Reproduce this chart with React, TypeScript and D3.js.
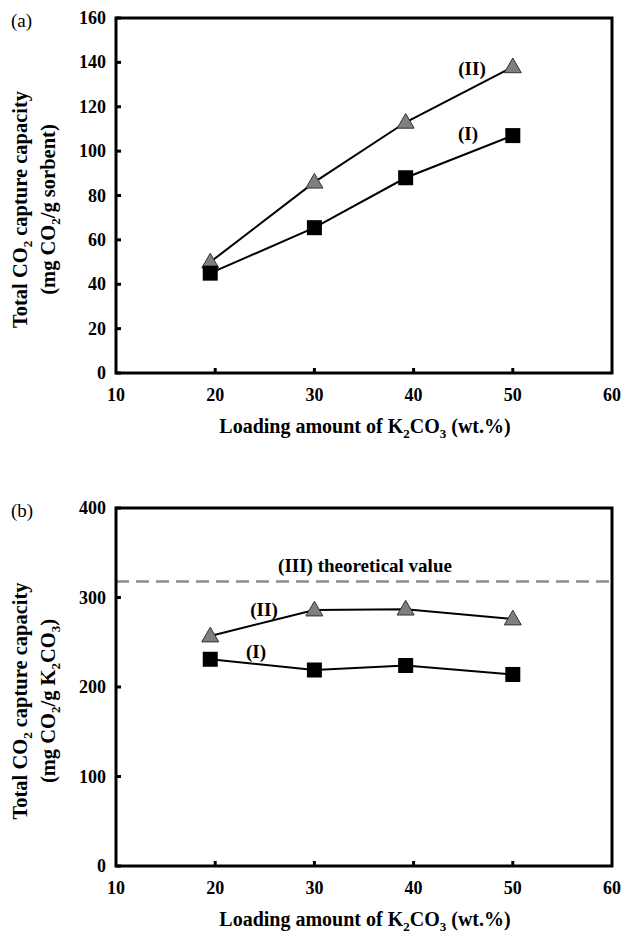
import React from 'react';
import * as d3 from 'd3';

const loading = [19.5, 30, 39.2, 50];
const xTicks = [10, 20, 30, 40, 50, 60];

const sorbentI = [45, 65.5, 88, 107];
const sorbentII = [50, 86, 113, 138];
const sorbentTicks = [0, 20, 40, 60, 80, 100, 120, 140, 160];

const carbonateI = [231, 219, 224, 214];
const carbonateII = [257, 286, 287, 276];
const carbonateTheory = 318;
const carbonateTicks = [0, 100, 200, 300, 400];

const font = '"Liberation Serif", "Times New Roman", serif';
const width = 624;
const height = 933;

type Label = { text: string; x: number; y: number };

type PanelProps = {
  top: number;
  bottom: number;
  tag: string;
  yMax: number;
  yTicks: number[];
  seriesI: number[];
  seriesII: number[];
  labelI: Label;
  labelII: Label;
  theory?: number;
  yUnit: React.ReactNode;
};

const left = 116;
const right = 612;

const Sub = ({ children }: { children: React.ReactNode }) => (
  <tspan fontSize={13} dy={5}>{children}</tspan>
);

const Panel = ({ top, bottom, tag, yMax, yTicks, seriesI, seriesII, labelI, labelII, theory, yUnit }: PanelProps) => {
  const x = d3.scaleLinear().domain([10, 60]).range([left, right]);
  const y = d3.scaleLinear().domain([0, yMax]).range([bottom, top]);
  const line = d3.line<number>().x((_, i) => x(loading[i])).y(d => y(d));
  const tri = d3.symbol().type(d3.symbolTriangle).size(125)();
  const midY = (top + bottom) / 2 + 14;
  return (
    <g fontFamily={font}>
      <text x={11} y={top + 9} fontSize={19}>{tag}</text>
      {theory !== undefined && (
        <g>
          <line x1={left} x2={right} y1={y(theory)} y2={y(theory)} stroke="#8c8c8c" strokeWidth={2.5} strokeDasharray="13 7" />
          <text x={365} y={y(theory) - 9} fontSize={19} fontWeight="bold" textAnchor="middle">(III) theoretical value</text>
        </g>
      )}
      <path d={line(seriesII) ?? ''} fill="none" stroke="#000" strokeWidth={2} />
      <path d={line(seriesI) ?? ''} fill="none" stroke="#000" strokeWidth={2} />
      {seriesII.map((d, i) => (
        <path key={'t' + i} d={tri ?? ''} transform={`translate(${x(loading[i])},${y(d) + 1})`} fill="#7f7f7f" stroke="#333" strokeWidth={1} />
      ))}
      {seriesI.map((d, i) => (
        <rect key={'s' + i} x={x(loading[i]) - 7.5} y={y(d) - 7.5} width={15} height={15} fill="#000" />
      ))}
      <text x={labelII.x} y={labelII.y} fontSize={19} fontWeight="bold" textAnchor="middle">{labelII.text}</text>
      <text x={labelI.x} y={labelI.y} fontSize={19} fontWeight="bold" textAnchor="middle">{labelI.text}</text>
      <rect x={left} y={top} width={right - left} height={bottom - top} fill="none" stroke="#000" strokeWidth={3} />
      {yTicks.map(t => (
        <g key={'y' + t}>
          <line x1={left} x2={left + 5} y1={y(t)} y2={y(t)} stroke="#000" strokeWidth={3} />
          <text x={106} y={y(t) + 6} fontSize={18} fontWeight="bold" textAnchor="end">{t}</text>
        </g>
      ))}
      {xTicks.map(t => (
        <g key={'x' + t}>
          {t > 10 && t < 60 && <line x1={x(t)} x2={x(t)} y1={bottom} y2={bottom - 5} stroke="#000" strokeWidth={3} />}
          <text x={x(t)} y={bottom + 28} fontSize={18} fontWeight="bold" textAnchor="middle">{t}</text>
        </g>
      ))}
      <text x={365} y={bottom + 60} fontSize={20} fontWeight="bold" textAnchor="middle">
        Loading amount of K<Sub>2</Sub><tspan dy={-5}>CO</tspan><Sub>3</Sub><tspan dy={-5}> (wt.%)</tspan>
      </text>
      <g transform={`translate(27,${midY}) rotate(-90)`}>
        <text x={0} y={0} fontSize={20.5} fontWeight="bold" textAnchor="middle">
          Total CO<Sub>2</Sub><tspan dy={-5}> capture capacity</tspan>
        </text>
      </g>
      <g transform={`translate(55,${midY}) rotate(-90)`}>
        <text x={0} y={0} fontSize={20.5} fontWeight="bold" textAnchor="middle">{yUnit}</text>
      </g>
    </g>
  );
};

export default function App() {
  return (
    <svg width={width} height={height} style={{ position: 'absolute', left: 0, top: 0 }}>
      <rect width={width} height={height} fill="#fff" />
      <Panel
        top={18}
        bottom={373}
        tag="(a)"
        yMax={160}
        yTicks={sorbentTicks}
        seriesI={sorbentI}
        seriesII={sorbentII}
        labelI={{ text: '(I)', x: 468, y: 140 }}
        labelII={{ text: '(II)', x: 472, y: 75 }}
        yUnit={<>(mg CO<Sub>2</Sub><tspan dy={-5}>/g sorbent)</tspan></>}
      />
      <Panel
        top={508}
        bottom={866}
        tag="(b)"
        yMax={400}
        yTicks={carbonateTicks}
        seriesI={carbonateI}
        seriesII={carbonateII}
        theory={carbonateTheory}
        labelI={{ text: '(I)', x: 256, y: 658 }}
        labelII={{ text: '(II)', x: 264, y: 616 }}
        yUnit={<>(mg CO<Sub>2</Sub><tspan dy={-5}>/g K</tspan><Sub>2</Sub><tspan dy={-5}>CO</tspan><Sub>3</Sub><tspan dy={-5}>)</tspan></>}
      />
    </svg>
  );
}
